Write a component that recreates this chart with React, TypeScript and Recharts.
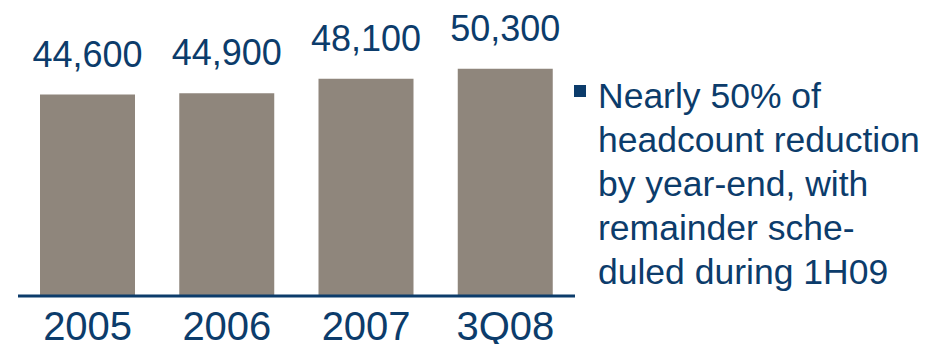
import React from 'react';
import { BarChart, Bar, XAxis, YAxis, LabelList } from 'recharts';

const categories = ['2005', '2006', '2007', '3Q08'];
const headcount = [44600, 44900, 48100, 50300];
const noteLines = [
  'Nearly 50% of',
  'headcount reduction',
  'by year-end, with',
  'remainder sche-',
  'duled during 1H09',
];

const data = categories.map((c, i) => ({ name: c, value: headcount[i] }));

const NAVY = '#0c3c6b';
const BAR = '#8f867c';
const FONT = '"Liberation Sans", Arial, Helvetica, sans-serif';

const fmt = (v: number) => v.toLocaleString('en-US');

export default function App() {
  return (
    <div style={{ position: 'absolute', left: 0, top: 0, width: 926, height: 344, background: '#fff', fontFamily: FONT }}>
      <BarChart
        width={926}
        height={344}
        data={data}
        margin={{ top: 25, right: 351, bottom: 0, left: 18 }}
        barCategoryGap={22}
      >
        <YAxis hide domain={[0, 60000]} />
        <XAxis
          dataKey="name"
          height={48}
          axisLine={{ stroke: NAVY, strokeWidth: 3 }}
          tickLine={false}
          tickSize={0}
          tickMargin={16}
          tick={{ fill: NAVY, fontSize: 40, fontFamily: FONT }}
          interval={0}
        />
        <Bar dataKey="value" fill={BAR} barSize={95} isAnimationActive={false}>
          <LabelList
            dataKey="value"
            position="top"
            offset={28}
            formatter={(v: any) => fmt(Number(v))}
            style={{ fill: NAVY, fontSize: 36, fontFamily: FONT }}
          />
        </Bar>
      </BarChart>
      <div
        style={{
          position: 'absolute',
          left: 574,
          top: 85,
          width: 12,
          height: 12,
          background: NAVY,
        }}
      />
      <div
        style={{
          position: 'absolute',
          left: 598,
          top: 74,
          fontSize: 35.5,
          lineHeight: '44px',
          color: NAVY,
          whiteSpace: 'nowrap',
          fontFamily: FONT,
        }}
      >
        {noteLines.map((l, i) => (
          <div key={i}>{l}</div>
        ))}
      </div>
    </div>
  );
}
